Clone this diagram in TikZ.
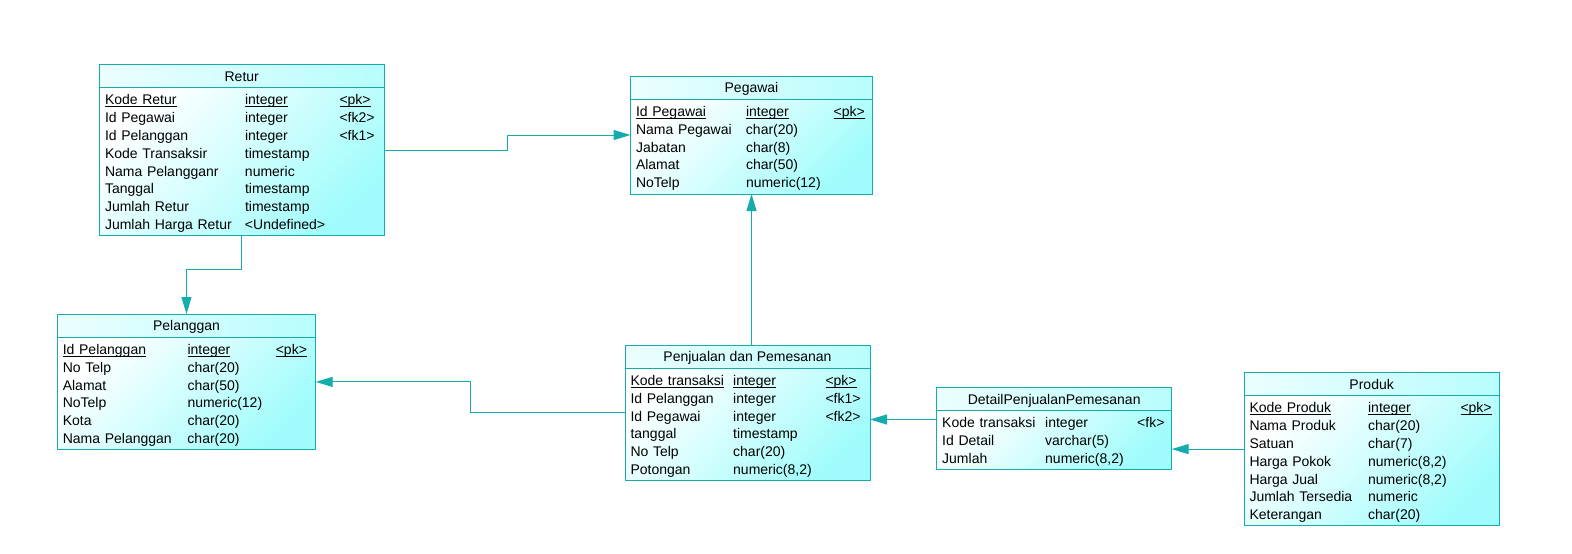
\documentclass[tikz,border=0pt]{standalone}
\usepackage{fontspec}
\setmainfont{Liberation Sans}
\usetikzlibrary{positioning,fit,arrows.meta}
\definecolor{erline}{RGB}{20,172,172}
\definecolor{erfill}{RGB}{160,252,252}
\newbox\keybox
\newcommand{\keycol}[1]{\leavevmode\setbox\keybox=\hbox{#1}\rlap{\rule[-2.1pt]{\wd\keybox}{1pt}}\box\keybox}
\tikzset{
  tabletitle/.style={draw=erline, line width=1pt, anchor=north west, inner sep=0pt, outer sep=0pt,
    minimum height=23.5pt, text height=10pt, text depth=0pt,
    left color=erfill!20, right color=erfill!75,
    font=\fontsize{14}{17.8}\selectfont},
  tablebody/.style={draw=erline, line width=1pt, inner xsep=5.5pt, inner ysep=2.75pt, outer sep=0pt,
    top color=white, bottom color=erfill, shading angle=45,
    font=\fontsize{14}{17.8}\selectfont,
    execute at begin node={\setbox0=\hbox\bgroup},
    execute at end node={\egroup\raisebox{-1.8pt}[\height][\depth]{\box0}}},
  entity/.style={inner sep=0pt, outer sep=0pt},
  reference/.style={color=erline, line width=1pt, -{Triangle[length=17pt,width=10pt]}}
}
\begin{document}
\begin{tikzpicture}[x=1pt,y=-1pt]
  \useasboundingbox[fill=white] (0,0) rectangle (1572,554);

  \node[tabletitle, minimum width=284.5pt] (returT) at (99.5,64.3) {Retur};
  \node[tablebody, text width=273.5pt, below=0pt of returT] (retur) {%
    \begin{tabular}{@{}p{140pt}@{}p{94.5pt}@{}l@{}}
      \keycol{Kode Retur} & \keycol{integer} & \keycol{<pk>}\\
      Id Pegawai & integer & <fk2>\\
      Id Pelanggan & integer & <fk1>\\
      Kode Transaksir & timestamp & \\
      Nama Pelangganr & numeric & \\
      Tanggal & timestamp & \\
      Jumlah Retur & timestamp & \\
      Jumlah Harga Retur & <Undefined> &
    \end{tabular}};
  \node[entity, fit=(returT)(retur)] (returE) {};

  \node[tabletitle, minimum width=242pt] (pegawaiT) at (630.5,76) {Pegawai};
  \node[tablebody, text width=231pt, below=0pt of pegawaiT] (pegawai) {%
    \begin{tabular}{@{}p{110pt}@{}p{87.6pt}@{}l@{}}
      \keycol{Id Pegawai} & \keycol{integer} & \keycol{<pk>}\\
      Nama Pegawai & char(20) & \\
      Jabatan & char(8) & \\
      Alamat & char(50) & \\
      NoTelp & numeric(12) &
    \end{tabular}};
  \node[entity, fit=(pegawaiT)(pegawai)] (pegawaiE) {};

  \node[tabletitle, minimum width=258.4pt] (pelangganT) at (57.3,314) {Pelanggan};
  \node[tablebody, text width=247.4pt, below=0pt of pelangganT] (pelanggan) {%
    \begin{tabular}{@{}p{124.7pt}@{}p{88.3pt}@{}l@{}}
      \keycol{Id Pelanggan} & \keycol{integer} & \keycol{<pk>}\\
      No Telp & char(20) & \\
      Alamat & char(50) & \\
      NoTelp & numeric(12) & \\
      Kota & char(20) & \\
      Nama Pelanggan & char(20) &
    \end{tabular}};
  \node[entity, fit=(pelangganT)(pelanggan)] (pelangganE) {};

  \node[tabletitle, minimum width=245pt] (penjualanT) at (625,345) {Penjualan dan Pemesanan};
  \node[tablebody, text width=234pt, below=0pt of penjualanT] (penjualan) {%
    \begin{tabular}{@{}p{102.7pt}@{}p{92.3pt}@{}l@{}}
      \keycol{Kode transaksi} & \keycol{integer} & \keycol{<pk>}\\
      Id Pelanggan & integer & <fk1>\\
      Id Pegawai & integer & <fk2>\\
      tanggal & timestamp & \\
      No Telp & char(20) & \\
      Potongan & numeric(8,2) &
    \end{tabular}};
  \node[entity, fit=(penjualanT)(penjualan)] (penjualanE) {};

  \node[tabletitle, minimum width=235pt] (detailT) at (936.7,387.3) {DetailPenjualanPemesanan};
  \node[tablebody, text width=224pt, below=0pt of detailT] (detail) {%
    \begin{tabular}{@{}p{103pt}@{}p{92pt}@{}l@{}}
      Kode transaksi & integer & <fk>\\
      Id Detail & varchar(5) & \\
      Jumlah & numeric(8,2) &
    \end{tabular}};
  \node[entity, fit=(detailT)(detail)] (detailE) {};

  \node[tabletitle, minimum width=255.3pt] (produkT) at (1244,372.3) {Produk};
  \node[tablebody, text width=244.3pt, below=0pt of produkT] (produk) {%
    \begin{tabular}{@{}p{118.6pt}@{}p{92.4pt}@{}l@{}}
      \keycol{Kode Produk} & \keycol{integer} & \keycol{<pk>}\\
      Nama Produk & char(20) & \\
      Satuan & char(7) & \\
      Harga Pokok & numeric(8,2) & \\
      Harga Jual & numeric(8,2) & \\
      Jumlah Tersedia & numeric & \\
      Keterangan & char(20) &
    \end{tabular}};
  \node[entity, fit=(produkT)(produk)] (produkE) {};

  \coordinate (kodeTrx) at ([yshift=9pt]detailE.west);
  \begin{scope}[reference]
    \draw (returE.east) -- ++(123,0) |- (pegawaiE.west);
    \draw (returE.south) -- ++(0,34) -| (pelangganE.north);
    \draw (penjualanE.west) -- ++(-155,0) |- (pelangganE.east);
    \draw (penjualanE.north -| pegawaiE.south) -- (pegawaiE.south);
    \draw (kodeTrx) -- (kodeTrx -| penjualanE.east);
    \draw (produkE.west) -- (produkE.west -| detailE.east);
  \end{scope}
\end{tikzpicture}
\end{document}
